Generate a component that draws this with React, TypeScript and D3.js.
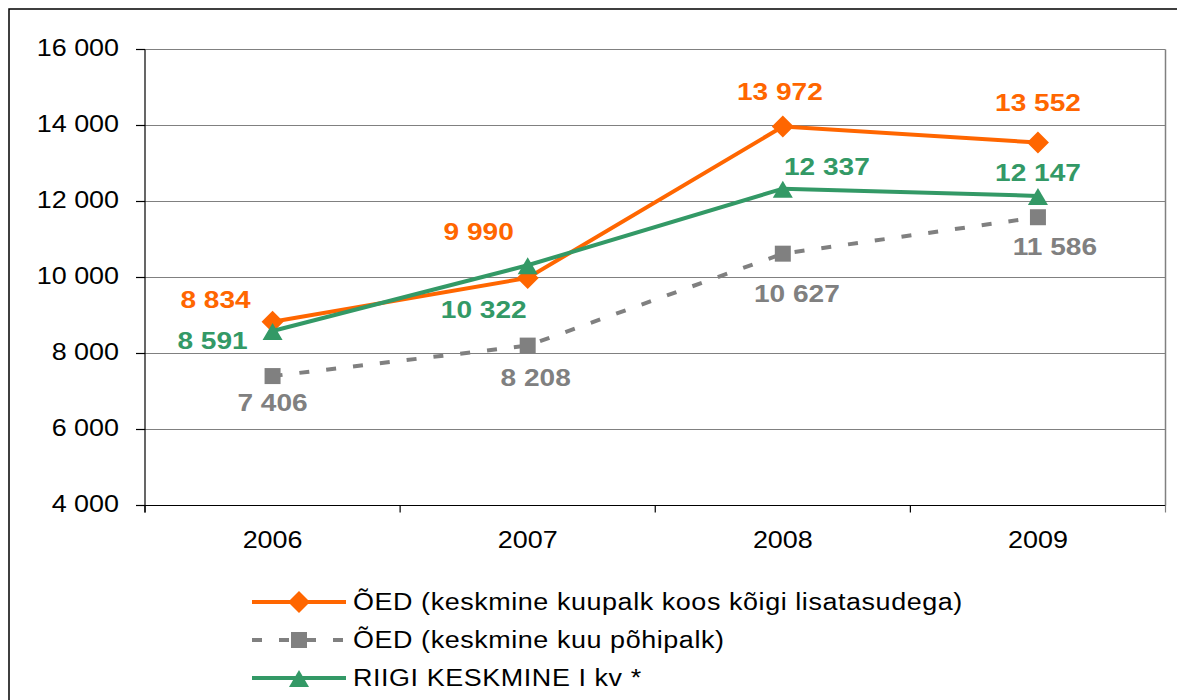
import React from "react";
import * as d3 from "d3";

const years = ["2006", "2007", "2008", "2009"];
const oedTotal = [8834, 9990, 13972, 13552];
const oedBase = [7406, 8208, 10627, 11586];
const stateAvg = [8591, 10322, 12337, 12147];
const yTicks = [4000, 6000, 8000, 10000, 12000, 14000, 16000];
const legendLabels = [
  "ÕED (keskmine kuupalk koos kõigi lisatasudega)",
  "ÕED (keskmine kuu põhipalk)",
  "RIIGI KESKMINE I kv *",
];

// label offsets (layout, px) relative to the point
const offTotal = [[-57, -22], [-49, -46], [-3, -35], [0, -40]];
const offBase = [[0, 27], [8, 32], [14, 40], [17, 29]];
const offState = [[-60, 10], [-44, 44], [44, -22], [0, -23]];

const ORANGE = "#FF6600";
const GRAY = "#808080";
const GREEN = "#339966";
const FONT = "'Liberation Sans', Arial, sans-serif";
const SX = 1.17;

const fmt = (v: number) => {
  const s = String(v);
  return s.length > 3 ? s.slice(0, s.length - 3) + " " + s.slice(-3) : s;
};

function T({ x, y, anchor = "middle", children, fill = "#000", weight = "normal", size = 23, spacing = 0 }: any) {
  return (
    <text
      transform={`translate(${x},${y}) scale(${SX},1)`}
      textAnchor={anchor}
      dy="0.35em"
      fill={fill}
      fontWeight={weight}
      fontSize={size}
      fontFamily={FONT}
      letterSpacing={spacing}
    >
      {children}
    </text>
  );
}

const diamond = (cx: number, cy: number, r = 11) =>
  `M${cx},${cy - r}L${cx + r},${cy}L${cx},${cy + r}L${cx - r},${cy}Z`;
const square = (cx: number, cy: number, s = 8) =>
  `M${cx - s},${cy - s}H${cx + s}V${cy + s}H${cx - s}Z`;
const triangle = (cx: number, cy: number) =>
  `M${cx},${cy - 8}L${cx + 10},${cy + 9}L${cx - 10},${cy + 9}Z`;

export default function App() {
  const W = 1177, H = 700;
  const left = 145, right = 1165.5, top = 49.5, bottom = 505.5;
  const x = d3.scaleBand<string>().domain(years).range([left, right]);
  const y = d3.scaleLinear().domain([4000, 16000]).range([bottom, top]);
  const cx = (i: number) => (x(years[i]) as number) + x.bandwidth() / 2;
  const line = d3.line<number>().x((_, i) => cx(i)).y((d) => y(d));

  const series = [
    { data: oedTotal, color: ORANGE, dash: undefined, marker: diamond, off: offTotal },
    { data: oedBase, color: GRAY, dash: "10,17", marker: square, off: offBase },
    { data: stateAvg, color: GREEN, dash: undefined, marker: triangle, off: offState },
  ];
  const drawOrder = [1, 0, 2];

  const boundaries = [...years.map((d) => x(d) as number), right];

  return (
    <svg width={W} height={H} style={{ position: "absolute", left: 0, top: 0, background: "#fff" }}>
      <rect x={0} y={0} width={W} height={H} fill="#fff" />
      <rect x={9} y={9} width={W + 20} height={H + 20} fill="none" stroke="#000" strokeWidth={1.5} />
      {/* gridlines */}
      {yTicks.map((t) => (
        <g key={t}>
          {t !== 4000 && (
            <line x1={left} x2={right} y1={y(t)} y2={y(t)} stroke={GRAY} strokeWidth={1.2} />
          )}
          <line x1={136} x2={left} y1={y(t)} y2={y(t)} stroke="#000" strokeWidth={1.2} />
          <T x={119} y={y(t) - 1.5} anchor="end">{fmt(t)}</T>
        </g>
      ))}
      <line x1={right} x2={right} y1={top} y2={bottom} stroke={GRAY} strokeWidth={1.5} />
      <line x1={left} x2={left} y1={top} y2={bottom + 7} stroke="#000" strokeWidth={1.2} />
      <line x1={left} x2={right} y1={bottom} y2={bottom} stroke="#000" strokeWidth={1.2} />
      {boundaries.map((b, i) => (
        <line key={i} x1={b} x2={b} y1={bottom} y2={bottom + 7} stroke={i === boundaries.length - 1 ? GRAY : "#000"} strokeWidth={1.2} />
      ))}
      {years.map((yr, i) => (
        <T key={yr} x={cx(i)} y={540}>{yr}</T>
      ))}
      {/* series */}
      {drawOrder.map((si) => {
        const s = series[si];
        return (
          <g key={si}>
            <path d={line(s.data) as string} fill="none" stroke={s.color} strokeWidth={4} strokeDasharray={s.dash} />
            {s.data.map((v, i) => (
              <path key={i} d={s.marker(cx(i), y(v))} fill={s.color} />
            ))}
          </g>
        );
      })}
      {/* labels */}
      {series.map((s, si) =>
        s.data.map((v, i) => (
          <T key={`${si}-${i}`} x={cx(i) + s.off[i][0]} y={y(v) + s.off[i][1]} fill={s.color} weight="bold" size={24}>
            {fmt(v)}
          </T>
        ))
      )}
      {/* legend */}
      {series.map((s, si) => {
        const ly = 602 + si * 38;
        return (
          <g key={si}>
            <line x1={252} x2={346} y1={ly} y2={ly} stroke={s.color} strokeWidth={4} strokeDasharray={s.dash ? "10,17" : undefined} />
            <path d={s.marker(299, ly)} fill={s.color} />
            <T x={353} y={ly} anchor="start" spacing={0.5}>{legendLabels[si]}</T>
          </g>
        );
      })}
    </svg>
  );
}
